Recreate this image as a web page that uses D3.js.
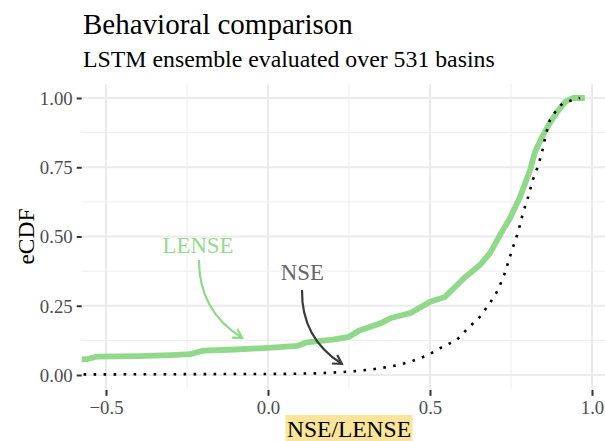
<!DOCTYPE html>
<html>
<head>
<meta charset="utf-8">
<script src="https://cdn.jsdelivr.net/npm/d3@7"></script>
<style>
  html, body { margin: 0; padding: 0; background: #fff; }
  svg { display: block; }
  text { font-family: "Liberation Serif", "Times New Roman", serif; }
</style>
</head>
<body>
<svg id="chart" width="605" height="441"></svg>
<script>
// ---- data ----
const title = "Behavioral comparison";
const subtitle = "LSTM ensemble evaluated over 531 basins";
const xTitle = "NSE/LENSE";
const yTitle = "eCDF";

const xTicks = [-0.5, 0.0, 0.5, 1.0];
const xTickLabels = ["\u22120.5", "0.0", "0.5", "1.0"];
const xMinor = [-0.25, 0.25, 0.75];
const yTicks = [0, 0.25, 0.5, 0.75, 1.0];
const yTickLabels = ["0.00", "0.25", "0.50", "0.75", "1.00"];
const yMinor = [0.125, 0.375, 0.625, 0.875];

const lenseX = [-0.60, -0.56, -0.53, -0.40, -0.30, -0.24, -0.20, -0.10, 0.00, 0.09, 0.12, 0.20, 0.25, 0.28, 0.35, 0.38, 0.44, 0.50, 0.546, 0.575, 0.61, 0.654, 0.685, 0.716, 0.747, 0.778, 0.809, 0.824, 0.849, 0.870, 0.892, 0.917, 0.941, 0.978];
const lenseY = [0.055, 0.057, 0.066, 0.068, 0.072, 0.075, 0.088, 0.092, 0.098, 0.105, 0.118, 0.128, 0.138, 0.160, 0.188, 0.206, 0.224, 0.264, 0.282, 0.315, 0.355, 0.397, 0.440, 0.505, 0.567, 0.643, 0.740, 0.805, 0.866, 0.910, 0.949, 0.986, 1.0, 1.0];

const nseX = [-0.60, 0.05, 0.15, 0.222, 0.26, 0.32, 0.386, 0.44, 0.49, 0.536, 0.582, 0.618, 0.654, 0.685, 0.71, 0.731, 0.755, 0.772, 0.787, 0.803, 0.817, 0.829, 0.845, 0.857, 0.87, 0.891, 0.909, 0.937, 0.963];
const nseY = [0.002, 0.004, 0.006, 0.010, 0.013, 0.020, 0.032, 0.048, 0.070, 0.100, 0.126, 0.170, 0.210, 0.260, 0.307, 0.368, 0.458, 0.516, 0.585, 0.643, 0.704, 0.740, 0.800, 0.866, 0.920, 0.957, 0.980, 0.992, 1.0];

// annotations (data coordinates)
const labelNames = ["LENSE", "NSE"];
const labelX = [-0.216, 0.106];
const labelY = [0.469, 0.369];
const arrowX0 = [-0.213, 0.105];
const arrowY0 = [0.415, 0.307];
const arrowX1 = [-0.080, 0.228];
const arrowY1 = [0.134, 0.040];

// ---- layout ----
const svg = d3.select("#chart");
const xDomain = [-0.575, 1.075];
const yDomain = [-0.05, 1.05];
const x = d3.scaleLinear().domain(xDomain).range([81.7, 81.7 + 1.65 * 324]);
const y = d3.scaleLinear().domain(yDomain).range([375 + 0.05 * 277, 375 - 1.05 * 277]);

const panelL = x(xDomain[0]), panelR = x(xDomain[1]);
const panelT = y(yDomain[1]), panelB = y(yDomain[0]);

const green = "#90d98b";
const greenText = "#94da8f";

// title
svg.append("text").attr("x", 83).attr("y", 33.5)
  .attr("font-size", 29).attr("fill", "#000").text(title);
svg.append("text").attr("x", 83).attr("y", 66.5)
  .attr("font-size", 23.8).attr("fill", "#000").text(subtitle);

// clip
svg.append("defs").append("clipPath").attr("id", "panel")
  .append("rect").attr("x", panelL).attr("y", panelT)
  .attr("width", panelR - panelL).attr("height", panelB - panelT);

const grid = svg.append("g");
grid.selectAll(".ymin").data(yMinor).join("line")
  .attr("x1", panelL).attr("x2", panelR)
  .attr("y1", d => y(d)).attr("y2", d => y(d))
  .attr("stroke", "#ededed").attr("stroke-width", 1);
grid.selectAll(".xmin").data(xMinor).join("line")
  .attr("y1", panelT).attr("y2", panelB)
  .attr("x1", d => x(d)).attr("x2", d => x(d))
  .attr("stroke", "#ededed").attr("stroke-width", 1);
grid.selectAll(".ymaj").data(yTicks).join("line")
  .attr("x1", panelL).attr("x2", panelR)
  .attr("y1", d => y(d)).attr("y2", d => y(d))
  .attr("stroke", "#ebebeb").attr("stroke-width", 2);
grid.selectAll(".xmaj").data(xTicks).join("line")
  .attr("y1", panelT).attr("y2", panelB)
  .attr("x1", d => x(d)).attr("x2", d => x(d))
  .attr("stroke", "#ebebeb").attr("stroke-width", 2);

// axes
const yAxis = d3.axisLeft(y).tickValues(yTicks)
  .tickFormat((d, i) => yTickLabels[i]).tickSize(5).tickPadding(4);
const gy = svg.append("g").attr("transform", `translate(${panelL},0)`).call(yAxis)
  .attr("font-family", "Liberation Serif");
gy.select(".domain").remove();
gy.selectAll(".tick line").attr("stroke", "#333").attr("stroke-width", 2);
gy.selectAll(".tick text").attr("font-size", 18.8).attr("fill", "#4d4d4d")
  .attr("dy", "0.34em");

const xAxis = d3.axisBottom(x).tickValues(xTicks)
  .tickFormat((d, i) => xTickLabels[i]).tickSize(6).tickPadding(5);
const gx = svg.append("g").attr("transform", `translate(0,${panelB + 1})`).call(xAxis)
  .attr("font-family", "Liberation Serif");
gx.select(".domain").remove();
gx.selectAll(".tick line").attr("stroke", "#333").attr("stroke-width", 2);
gx.selectAll(".tick text").attr("font-size", 18.8).attr("fill", "#4d4d4d")
  .attr("dy", "0.72em");

// axis titles
svg.append("text").attr("transform", `translate(33.5,${(panelT + panelB) / 2}) rotate(-90)`)
  .attr("text-anchor", "middle").attr("font-size", 23.5).attr("fill", "#000").text(yTitle);

const xt = svg.append("text").attr("x", (panelL + panelR) / 2).attr("y", 436.5)
  .attr("text-anchor", "middle").attr("font-size", 23.5).attr("fill", "#000").text(xTitle);
const bb = xt.node().getBBox();
svg.insert("rect", () => xt.node())
  .attr("x", bb.x - 1.5).attr("y", 415).attr("width", bb.width + 3).attr("height", 30)
  .attr("fill", "#fce59a");

// series
const plot = svg.append("g").attr("clip-path", "url(#panel)");
const lense = lenseX.map((v, i) => [v, lenseY[i]]);
const nse = nseX.map((v, i) => [v, nseY[i]]);
const line = d3.line().x(d => x(d[0])).y(d => y(d[1]));

plot.append("path").attr("d", line(lense)).attr("fill", "none")
  .attr("stroke", green).attr("stroke-width", 5.8).attr("stroke-linejoin", "round");
plot.append("path").attr("d", line(nse)).attr("fill", "none")
  .attr("stroke", "#000").attr("stroke-width", 2.6)
  .attr("stroke-dasharray", "2.6 7.4");

// annotations
const labelColors = [greenText, "#666666"];
const arrowColors = [green, "#3a3a3a"];
labelNames.forEach((name, i) => {
  svg.append("text").attr("x", x(labelX[i])).attr("y", y(labelY[i]))
    .attr("text-anchor", "middle").attr("dominant-baseline", "central")
    .attr("font-size", 22.8).attr("fill", labelColors[i]).text(name);

  const sx = x(arrowX0[i]), sy = y(arrowY0[i]);
  const ex = x(arrowX1[i]), ey = y(arrowY1[i]);
  const mx = (sx + ex) / 2, my = (sy + ey) / 2;
  const dx = ex - sx, dy = ey - sy;
  const len = Math.hypot(dx, dy);
  const k = 0.28;
  const cx = mx + (dy / len) * -1 * len * k;
  const cy = my + (dx / len) * len * k;
  const p = d3.path();
  p.moveTo(sx, sy);
  p.quadraticCurveTo(cx, cy, ex, ey);
  svg.append("path").attr("d", p.toString()).attr("fill", "none")
    .attr("stroke", arrowColors[i]).attr("stroke-width", 2.2);
  const ang = Math.atan2(ey - cy, ex - cx);
  const hl = 10, ha = Math.PI / 6;
  const h = d3.path();
  h.moveTo(ex - hl * Math.cos(ang - ha), ey - hl * Math.sin(ang - ha));
  h.lineTo(ex, ey);
  h.lineTo(ex - hl * Math.cos(ang + ha), ey - hl * Math.sin(ang + ha));
  svg.append("path").attr("d", h.toString()).attr("fill", "none")
    .attr("stroke", arrowColors[i]).attr("stroke-width", 2.2)
    .attr("stroke-linejoin", "miter");
});
</script>
</body>
</html>
